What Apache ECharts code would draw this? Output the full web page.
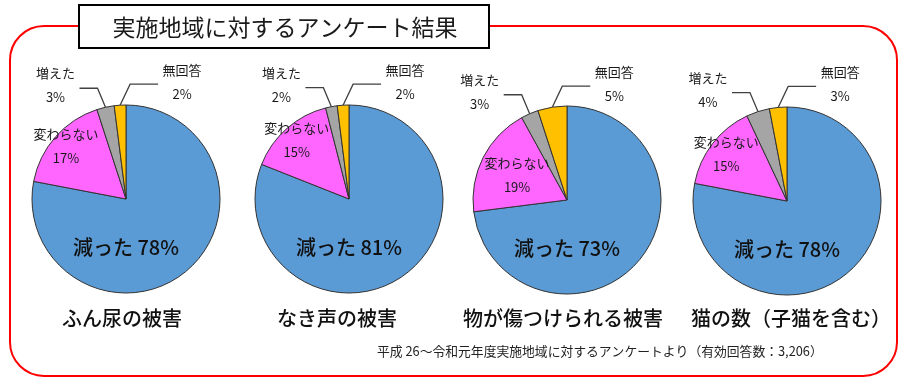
<!DOCTYPE html>
<html><head><meta charset="utf-8">
<script src="https://cdn.jsdelivr.net/npm/echarts@6/dist/echarts.min.js"></script>
<style>html,body{margin:0;padding:0;background:#fff}#c{width:905px;height:382px}</style>
</head><body><div id="c"></div>
<script>
// ---- data ----
const mainTitle = '実施地域に対するアンケート結果';
const categories = ['減った', '変わらない', '増えた', '無回答'];
const pieTitles = ['ふん尿の被害', 'なき声の被害', '物が傷つけられる被害', '猫の数（子猫を含む）'];
const decreased = [78, 81, 73, 78];
const unchanged = [17, 15, 19, 15];
const increased = [3, 2, 3, 4];
const noAnswer = [2, 2, 5, 3];
const footnote = '平成 26～令和元年度実施地域に対するアンケートより（有効回答数：3,206）';

// ---- layout / style ----
const pieCenters = [[126, 199], [349, 199], [567, 200], [787, 201]];
const pieRadius = 94;
const pieTitleX = [122, 337, 563, 791];
const pinkLabelScale = [1.6, 1.58, 1.12, 1.54];
const colors = ['#5B9BD5', '#FF66FF', '#A5A5A5', '#FFC000'];
const FONT = '"Noto Sans CJK JP", "Noto Sans", sans-serif';

const chart = echarts.init(document.getElementById('c'), null, { renderer: 'canvas' });

const series = pieTitles.map((t, i) => {
  const vals = [decreased[i], unchanged[i], increased[i], noAnswer[i]];
  return {
    type: 'pie',
    center: pieCenters[i],
    radius: pieRadius,
    startAngle: 90,
    clockwise: true,
    avoidLabelOverlap: false,
    silent: true,
    animation: false,
    itemStyle: { borderColor: '#333', borderWidth: 1 },
    label: {
      fontFamily: FONT, fontSize: 13, lineHeight: 24, color: '#1a1a1a',
      formatter: '{b}\n{c}%'
    },
    labelLine: { show: true, length: 10, length2: 10, lineStyle: { color: '#404040', width: 1.3 } },
    labelLayout: function (p) {
      if (p.dataIndex === 0) {
        const r = p.labelRect;
        return { x: r.x + r.width / 2, y: r.y + r.height / 2 + 48, align: 'center', verticalAlign: 'middle' };
      }
      if (p.dataIndex === 1) {
        const r = p.labelRect;
        const c = pieCenters[p.seriesIndex];
        const k = pinkLabelScale[p.seriesIndex];
        const lx = r.x + r.width / 2, ly = r.y + r.height / 2;
        return { x: c[0] + (lx - c[0]) * k, y: c[1] + (ly - c[1]) * k, align: 'center', verticalAlign: 'middle' };
      }
      const q = p.labelLinePoints[0];
      if (p.dataIndex === 2) {
        return {
          x: q[0] - 50, y: q[1] - 22, align: 'center', verticalAlign: 'middle',
          labelLinePoints: [q, [q[0] - 8, q[1] - 19], [q[0] - 26, q[1] - 19]]
        };
      }
      return {
        x: q[0] + 62, y: q[1] - 23, align: 'center', verticalAlign: 'middle',
        labelLinePoints: [q, [q[0] + 10, q[1] - 21], [q[0] + 38, q[1] - 21]]
      };
    },
    data: vals.map((v, j) => {
      const item = { name: categories[j], value: v, itemStyle: { color: colors[j] } };
      if (j === 0) {
        item.label = { position: 'center', fontSize: 20, fontWeight: 500, formatter: '{b} {c}%', color: '#111' };
        item.labelLine = { show: false };
      } else if (j === 1) {
        item.label = { position: 'inside' };
        item.labelLine = { show: false };
      } else {
        item.label = { position: 'outside' };
      }
      return item;
    })
  };
});

const graphics = [
  { type: 'rect', shape: { x: 10, y: 26, width: 887, height: 350, r: 34 },
    style: { fill: 'none', stroke: '#FF0000', lineWidth: 2 }, z: 1 },
  { type: 'rect', shape: { x: 79, y: 5, width: 410, height: 43 },
    style: { fill: '#fff', stroke: '#000', lineWidth: 2 }, z: 2 },
  { type: 'text', x: 285, y: 27, z: 3,
    style: { text: mainTitle, font: '23px ' + FONT, fill: '#1a1a1a', align: 'center', verticalAlign: 'middle' } },
  { type: 'text', x: 377, y: 351, z: 3,
    style: { text: footnote, font: '12.8px ' + FONT, fill: '#222', align: 'left', verticalAlign: 'middle' } }
];
pieTitles.forEach((t, i) => {
  graphics.push({ type: 'text', x: pieTitleX[i], y: 318, z: 3,
    style: { text: t, font: '500 20px ' + FONT, fill: '#111', align: 'center', verticalAlign: 'middle' } });
});

chart.setOption({
  backgroundColor: '#fff',
  animation: false,
  series: series,
  graphic: graphics
});
</script>
</body></html>
